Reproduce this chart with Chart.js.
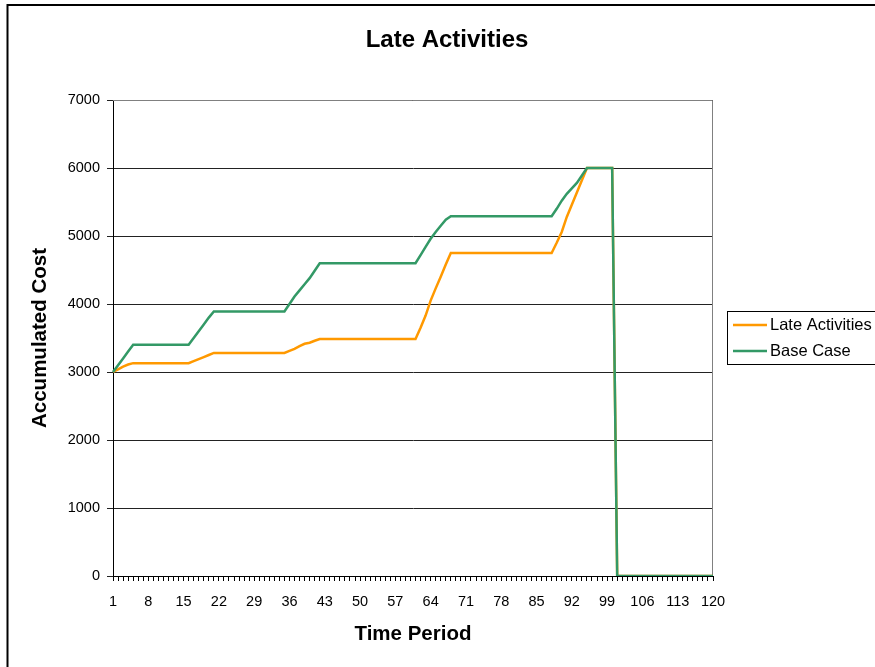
<!DOCTYPE html>
<html>
<head>
<meta charset="utf-8">
<title>Late Activities</title>
<script src="https://cdn.jsdelivr.net/npm/chart.js@4/dist/chart.umd.min.js"></script>
<style>
  body { margin: 0; background: #fff; }
  canvas { display: block; }
</style>
</head>
<body>
<canvas id="chart" width="875" height="667"></canvas>
<script>
"use strict";

// time periods 1..120
const periods = Array.from({ length: 120 }, (_, i) => String(i + 1));

const lateActivities = [
    3000, 3040, 3080, 3110, 3130, 3130, 3130, 3130, 3130, 3130,
    3130, 3130, 3130, 3130, 3130, 3130, 3160, 3190, 3220, 3250,
    3280, 3280, 3280, 3280, 3280, 3280, 3280, 3280, 3280, 3280,
    3280, 3280, 3280, 3280, 3280, 3310, 3340, 3380, 3415, 3430,
    3460, 3485, 3485, 3485, 3485, 3485, 3485, 3485, 3485, 3485,
    3485, 3485, 3485, 3485, 3485, 3485, 3485, 3485, 3485, 3485,
    3485, 3650, 3830, 4050, 4230, 4400, 4580, 4750, 4750, 4750,
    4750, 4750, 4750, 4750, 4750, 4750, 4750, 4750, 4750, 4750,
    4750, 4750, 4750, 4750, 4750, 4750, 4750, 4750, 4900, 5060,
    5280, 5460, 5640, 5820, 6000, 6000, 6000, 6000, 6000, 6000,
    0, 0, 0, 0, 0, 0, 0, 0, 0, 0,
    0, 0, 0, 0, 0, 0, 0, 0, 0, 0
];

const baseCase = [
    3000, 3100, 3200, 3300, 3400, 3400, 3400, 3400, 3400, 3400,
    3400, 3400, 3400, 3400, 3400, 3400, 3500, 3600, 3700, 3800,
    3890, 3890, 3890, 3890, 3890, 3890, 3890, 3890, 3890, 3890,
    3890, 3890, 3890, 3890, 3890, 4000, 4110, 4200, 4290, 4380,
    4490, 4600, 4600, 4600, 4600, 4600, 4600, 4600, 4600, 4600,
    4600, 4600, 4600, 4600, 4600, 4600, 4600, 4600, 4600, 4600,
    4600, 4720, 4840, 4960, 5060, 5150, 5240, 5290, 5290, 5290,
    5290, 5290, 5290, 5290, 5290, 5290, 5290, 5290, 5290, 5290,
    5290, 5290, 5290, 5290, 5290, 5290, 5290, 5290, 5400, 5520,
    5620, 5700, 5780, 5890, 6000, 6000, 6000, 6000, 6000, 6000,
    0, 0, 0, 0, 0, 0, 0, 0, 0, 0,
    0, 0, 0, 0, 0, 0, 0, 0, 0, 0
];

const yTicks = [0, 1000, 2000, 3000, 4000, 5000, 6000, 7000];
const labelEvery = 7;

const FONT = "'Liberation Sans', Arial, sans-serif";

// title, legend box, plot border and outer frame
const decorations = {
    id: 'decorations',
    beforeDatasetsDraw(chart) {
        const { ctx, chartArea: a } = chart;
        ctx.save();
        ctx.strokeStyle = '#808080';
        ctx.lineWidth = 1;
        ctx.beginPath();
        ctx.moveTo(a.left, a.top + 0.5);
        ctx.lineTo(a.right - 0.5, a.top + 0.5);
        ctx.lineTo(a.right - 0.5, a.bottom);
        ctx.stroke();
        ctx.restore();
    },
    afterDraw(chart) {
        const ctx = chart.ctx;
        ctx.save();

        ctx.fillStyle = '#000';
        ctx.font = 'bold 24px ' + FONT;
        ctx.textAlign = 'center';
        ctx.textBaseline = 'middle';
        ctx.fillText('Late Activities', 447, 40);

        // legend
        ctx.strokeStyle = '#000';
        ctx.lineWidth = 1;
        ctx.strokeRect(727.5, 311.5, 200, 53);
        ctx.font = '16.5px ' + FONT;
        ctx.textAlign = 'left';
        chart.data.datasets.forEach(function (ds, i) {
            let y = 325 + i * 26;
            ctx.strokeStyle = ds.borderColor;
            ctx.lineWidth = 2.5;
            ctx.beginPath();
            ctx.moveTo(733, y);
            ctx.lineTo(767, y);
            ctx.stroke();
            ctx.fillStyle = '#000';
            ctx.fillText(ds.label, 770, y);
        });

        // outer frame
        ctx.strokeStyle = '#000';
        ctx.lineWidth = 2;
        ctx.strokeRect(7.5, 5, 1000, 1000);
        ctx.restore();
    }
};

function main() {
    new Chart(document.getElementById('chart'), {
        type: 'line',
        data: {
            labels: periods,
            datasets: [
                {
                    label: 'Late Activities',
                    data: lateActivities,
                    borderColor: '#FF9900',
                    borderWidth: 2.5,
                    pointRadius: 0,
                    tension: 0,
                    fill: false,
                    order: 1
                },
                {
                    label: 'Base Case',
                    data: baseCase,
                    borderColor: '#339966',
                    borderWidth: 2.5,
                    pointRadius: 0,
                    tension: 0,
                    fill: false,
                    order: 0
                }
            ]
        },
        options: {
            responsive: false,
            animation: false,
            events: [],
            layout: { padding: { top: 100, right: 162, left: 0, bottom: 0 } },
            plugins: {
                legend: { display: false },
                title: { display: false },
                tooltip: { enabled: false }
            },
            scales: {
                x: {
                    type: 'category',
                    offset: false,
                    afterFit: function (scale) { scale.height = 91; },
                    grid: {
                        offset: false,
                        drawOnChartArea: false,
                        drawTicks: true,
                        tickLength: 5,
                        color: '#000'
                    },
                    border: { color: '#000', width: 1 },
                    ticks: {
                        autoSkip: false,
                        minRotation: 0,
                        maxRotation: 0,
                        padding: 12,
                        color: '#000',
                        font: { family: FONT, size: 14.5 },
                        callback: function (val, i) {
                            return i % labelEvery === 0 ? this.getLabelForValue(val) : '';
                        }
                    },
                    title: {
                        display: true,
                        text: 'Time Period',
                        color: '#000',
                        font: { family: FONT, size: 20.5, weight: 'bold' },
                        padding: { top: 0, bottom: 20 }
                    }
                },
                y: {
                    min: yTicks[0],
                    max: yTicks[yTicks.length - 1],
                    afterFit: function (scale) { scale.width = 113; },
                    afterBuildTicks: function (scale) {
                        scale.ticks = yTicks.map(v => ({ value: v }));
                    },
                    grid: {
                        color: '#222',
                        lineWidth: 1,
                        tickLength: 6
                    },
                    border: { color: '#000', width: 1 },
                    ticks: {
                        padding: 7,
                        color: '#000',
                        font: { family: FONT, size: 14.5 },
                        callback: function (val) { return String(val); }
                    },
                    title: {
                        display: true,
                        text: 'Accumulated Cost',
                        color: '#000',
                        font: { family: FONT, size: 20.5, weight: 'bold' },
                        padding: { top: 28, bottom: 0 }
                    }
                }
            }
        },
        plugins: [decorations]
    });
}

document.addEventListener('DOMContentLoaded', main);
</script>
</body>
</html>
